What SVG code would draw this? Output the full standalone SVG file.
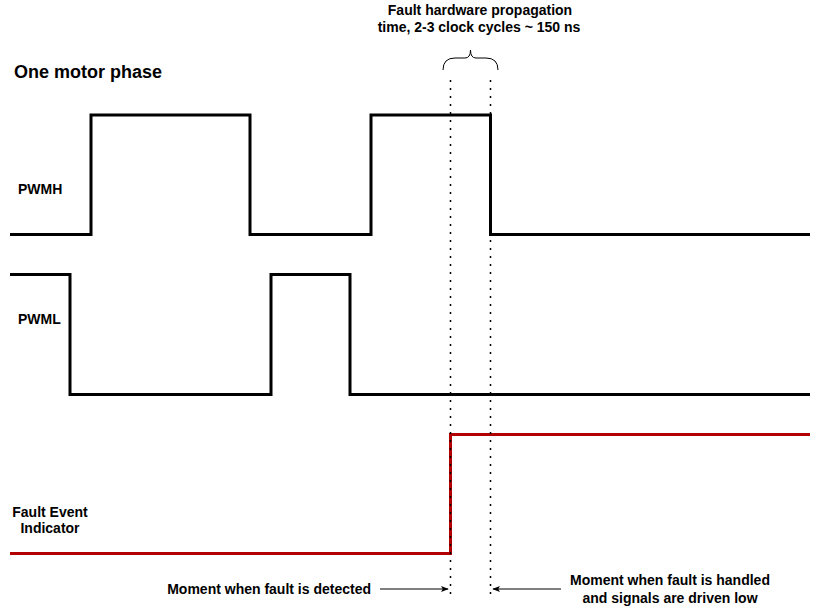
<svg xmlns="http://www.w3.org/2000/svg" width="813" height="607" viewBox="0 0 813 607">
<defs>
<style>
.t{font-family:"Liberation Sans",Arial,sans-serif;font-weight:bold;font-size:14px;fill:#000}
.sig{fill:none;stroke:#000;stroke-width:3;stroke-linejoin:miter}
.dot{fill:none;stroke:#000;stroke-width:1.5;stroke-dasharray:2 6}
.arr{fill:none;stroke:#000;stroke-width:1;marker-end:url(#ah)}
</style>
<marker id="ah" viewBox="0 0 10 10" refX="9" refY="5" markerWidth="8" markerHeight="8" markerUnits="userSpaceOnUse" orient="auto">
<path d="M0,1 L10,5 L0,9 L2.5,5 Z" fill="#000"/>
</marker>
</defs>
<rect width="813" height="607" fill="#fff"/>
<g id="title"><text class="t" x="14" y="78" style="font-size:18px">One motor phase</text></g>
<g id="propagation-label">
<text class="t" x="480" y="15" text-anchor="middle">Fault hardware propagation</text>
<text class="t" x="479" y="32" text-anchor="middle">time, 2-3 clock cycles ~ 150 ns</text>
<path d="M443,70 Q443,58 455,58 H465 Q470.5,58 470.5,50 Q470.5,58 476,58 H486 Q498,58 498,70" fill="none" stroke="#000" stroke-width="1"/>
</g>
<g id="pwmh">
<text class="t" x="18" y="194">PWMH</text>
<path class="sig" d="M10,234.5 H91 V115 H250 V234.5 H371 V115 H490.5 V234.5 H810"/>
</g>
<g id="pwml">
<text class="t" x="18" y="324">PWML</text>
<path class="sig" d="M10,274.5 H70 V394.5 H271 V274.5 H350 V394.5 H810"/>
</g>
<g id="fault">
<text class="t" x="50" y="517" text-anchor="middle">Fault Event</text>
<text class="t" x="50" y="533" text-anchor="middle">Indicator</text>
<path class="sig" style="stroke:#B20000" d="M10,553.5 H450.5 V434.5 H810"/>
</g>
<g id="connectors">
<line class="dot" x1="450.5" y1="80" x2="450.5" y2="596"/>
<line class="dot" x1="490.5" y1="80" x2="490.5" y2="596"/>
<line class="arr" x1="380" y1="589" x2="448" y2="589"/>
<line class="arr" x1="561" y1="589" x2="493" y2="589"/>
</g>
<g id="detected-label"><text class="t" x="371" y="594" text-anchor="end">Moment when fault is detected</text></g>
<g id="handled-label">
<text class="t" x="670" y="585" text-anchor="middle">Moment when fault is handled</text>
<text class="t" x="670" y="603" text-anchor="middle">and signals are driven low</text>
</g>
</svg>
